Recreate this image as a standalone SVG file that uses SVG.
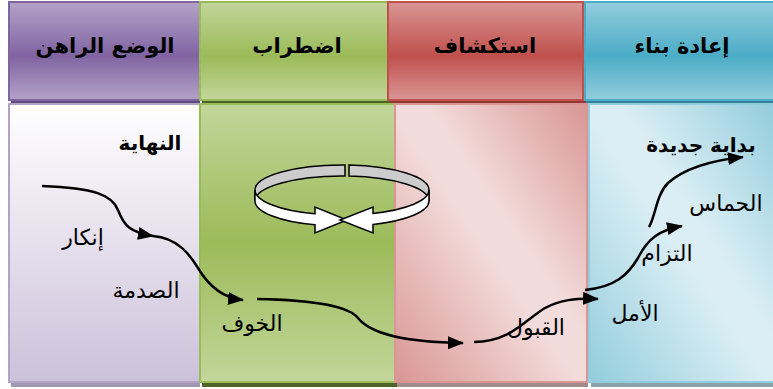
<svg xmlns="http://www.w3.org/2000/svg" width="773" height="389" viewBox="0 0 773 389">
  <defs>
    <!-- header fills: light at the edges, saturated in the middle -->
    <linearGradient id="hPurple" x1="0" y1="0" x2="0" y2="1">
      <stop offset="0" stop-color="#b3a2c7"/>
      <stop offset="0.55" stop-color="#8064a2"/>
      <stop offset="1" stop-color="#b3a2c7"/>
    </linearGradient>
    <linearGradient id="hGreen" x1="0" y1="0" x2="0" y2="1">
      <stop offset="0" stop-color="#c3d69b"/>
      <stop offset="0.55" stop-color="#9bbb59"/>
      <stop offset="1" stop-color="#c3d69b"/>
    </linearGradient>
    <linearGradient id="hRed" x1="0" y1="0" x2="0" y2="1">
      <stop offset="0" stop-color="#d99694"/>
      <stop offset="0.55" stop-color="#c0504d"/>
      <stop offset="1" stop-color="#d99694"/>
    </linearGradient>
    <linearGradient id="hBlue" x1="0" y1="0" x2="0" y2="1">
      <stop offset="0" stop-color="#93cddd"/>
      <stop offset="0.55" stop-color="#4bacc6"/>
      <stop offset="1" stop-color="#93cddd"/>
    </linearGradient>
    <!-- body fills -->
    <linearGradient id="bPurple" x1="0" y1="0" x2="0" y2="1">
      <stop offset="0" stop-color="#ffffff"/>
      <stop offset="1" stop-color="#ccc1da"/>
    </linearGradient>
    <linearGradient id="bGreen" x1="0" y1="0" x2="0" y2="1">
      <stop offset="0" stop-color="#c3d69b"/>
      <stop offset="0.5" stop-color="#9bbb59"/>
      <stop offset="1" stop-color="#c3d69b"/>
    </linearGradient>
    <linearGradient id="bRed" x1="0" y1="1" x2="1" y2="0">
      <stop offset="0" stop-color="#d99694"/>
      <stop offset="0.48" stop-color="#f2dcdb"/>
      <stop offset="0.58" stop-color="#f2dcdb"/>
      <stop offset="1" stop-color="#d99694"/>
    </linearGradient>
    <linearGradient id="bBlue" x1="0" y1="1" x2="1" y2="0">
      <stop offset="0" stop-color="#93cddd"/>
      <stop offset="0.48" stop-color="#dbeef4"/>
      <stop offset="0.58" stop-color="#dbeef4"/>
      <stop offset="1" stop-color="#93cddd"/>
    </linearGradient>
    <marker id="arrow" markerUnits="userSpaceOnUse" markerWidth="17" markerHeight="14" refX="15" refY="6.5" orient="auto">
      <path d="M0,0 L16,6.5 L0,13 Z" fill="#000"/>
    </marker>
  </defs>
  <style>
    .head { font-family: "DejaVu Sans", sans-serif; font-size: 21px; font-weight: bold; fill: #000; text-anchor: middle; }
    .lbl { font-family: "DejaVu Sans", sans-serif; font-size: 22px; fill: #000; text-anchor: middle; }
    .lblb { font-family: "DejaVu Sans", sans-serif; font-size: 20px; font-weight: bold; fill: #000; text-anchor: middle; }
    .flow { fill: none; stroke: #000; stroke-width: 2.5; marker-end: url(#arrow); }
    .ring { stroke: #000; stroke-width: 1.5; stroke-linejoin: miter; }
  </style>

  <rect width="773" height="389" fill="#ffffff"/>

  <!-- column: current state -->
  <g id="col-current">
    <rect x="11" y="98" width="189" height="5" fill="#5f4a7e"/>
    <rect x="9" y="2" width="191" height="98" fill="url(#hPurple)" stroke="#8064a2" stroke-width="2"/>
    <text class="head" x="105" y="53">الوضع الراهن</text>
    <rect x="11" y="380" width="189" height="7" fill="#a297b3"/>
    <rect x="9" y="104" width="191" height="278" fill="url(#bPurple)" stroke="#b3a2c7" stroke-width="2"/>
  </g>

  <!-- column: disturbance -->
  <g id="col-disturbance">
    <rect x="202" y="98" width="188" height="5" fill="#4f6228"/>
    <rect x="200" y="2" width="188" height="98" fill="url(#hGreen)" stroke="#9bbb59" stroke-width="2"/>
    <text class="head" x="297" y="53">اضطراب</text>
    <rect x="202" y="380" width="195" height="7" fill="#4f6228"/>
    <rect x="200" y="104" width="195" height="278" fill="url(#bGreen)" stroke="#9bbb59" stroke-width="2"/>
  </g>

  <!-- column: exploration -->
  <g id="col-exploration">
    <rect x="390" y="98" width="196" height="5" fill="#943634"/>
    <rect x="388" y="2" width="195" height="98" fill="url(#hRed)" stroke="#c0504d" stroke-width="2"/>
    <text class="head" x="485" y="53">استكشاف</text>
    <rect x="397" y="380" width="191" height="7" fill="#a48c8c"/>
    <rect x="395" y="104" width="192" height="278" fill="url(#bRed)" stroke="#d99694" stroke-width="2"/>
  </g>

  <!-- column: rebuilding -->
  <g id="col-rebuild">
    <rect x="586" y="98" width="187" height="5" fill="#31849b"/>
    <rect x="585" y="2" width="190" height="98" fill="url(#hBlue)" stroke="#4bacc6" stroke-width="2"/>
    <text class="head" x="682" y="53">إعادة بناء</text>
    <rect x="591" y="380" width="182" height="7" fill="#8aa2aa"/>
    <rect x="589" y="104" width="186" height="278" fill="url(#bBlue)" stroke="#93cddd" stroke-width="2"/>
  </g>

  <!-- circular arrows: the two halves of a ring meeting head to head -->
  <g id="cycle">
    <path class="ring" fill="#cccccc" d="M255,190 A87,25 0 0 1 345,165 L345,176 A87,25 0 0 0 255,201 Z"/>
    <path class="ring" fill="#cccccc" d="M349,165 A87,25 0 0 1 429,190 L429,201 A87,25 0 0 0 349,176 Z"/>
    <path class="ring" fill="#ffffff" d="M255,190 A87,25 0 0 0 315,213.8 L315,207 L347,220 L315,233 L315,224.8 A87,25 0 0 1 255,201 Z"/>
    <path class="ring" fill="#ffffff" d="M429,190 A87,25 0 0 1 373,213.4 L373,207 L340,220 L373,233 L373,224.4 A87,25 0 0 0 429,201 Z"/>
  </g>

  <!-- stage labels -->
  <g id="stage-end"><text class="lblb" x="150" y="150">النهاية</text></g>
  <g id="stage-denial"><text class="lbl" x="83" y="245">إنكار</text></g>
  <g id="stage-shock"><text class="lbl" x="146" y="298">الصدمة</text></g>
  <g id="stage-fear"><text class="lbl" x="252" y="331">الخوف</text></g>
  <g id="stage-acceptance"><text class="lbl" x="536" y="335">القبول</text></g>
  <g id="stage-hope"><text class="lbl" x="635" y="321">الأمل</text></g>
  <g id="stage-commitment"><text class="lbl" x="667" y="261">التزام</text></g>
  <g id="stage-enthusiasm"><text class="lbl" x="726" y="211">الحماس</text></g>
  <g id="stage-new-start"><text class="lblb" x="701" y="152">بداية جديدة</text></g>

  <!-- transition curve -->
  <g id="connectors">
    <path class="flow" d="M42,186 C95,188 112,195 118,210 C124,226 130,232 153,236"/>
    <path class="flow" d="M153,236 C178,238 190,255 198,268 C208,285 222,298 243,300"/>
    <path class="flow" d="M257,299 C320,300 350,308 358,318 C370,333 400,342 463,343"/>
    <path class="flow" d="M474,342 C510,342 525,320 545,308 C560,300 575,298 598,299"/>
    <path class="flow" d="M585,290 C615,287 628,275 638,258 C648,238 660,230 682,226"/>
    <path class="flow" d="M649,227 C656,215 656,195 668,183 C685,168 715,160 743,157"/>
  </g>
</svg>
